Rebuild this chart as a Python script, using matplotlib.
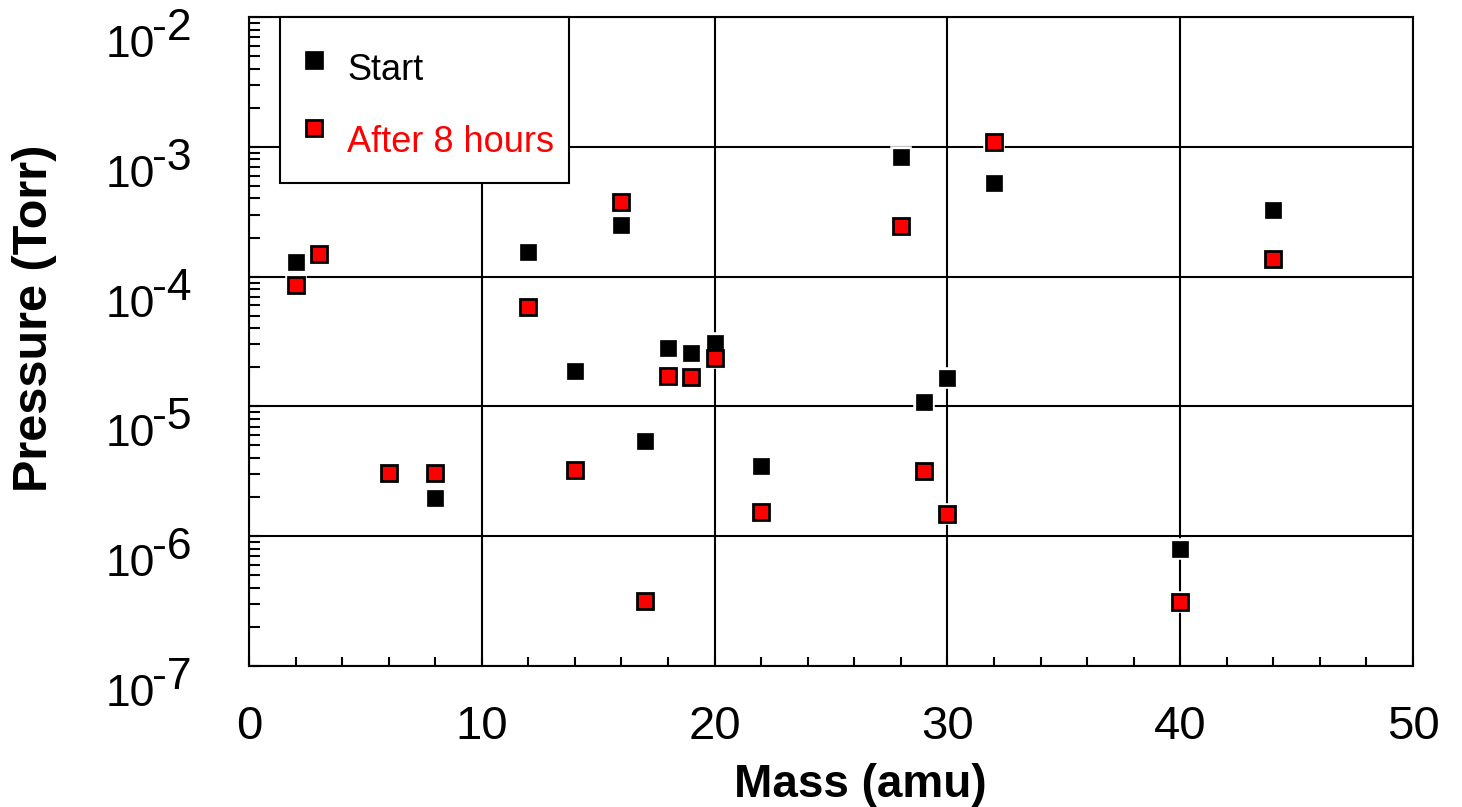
import matplotlib
matplotlib.use("Agg")
import matplotlib.pyplot as plt
from matplotlib.ticker import FixedLocator, LogLocator, NullFormatter
from matplotlib.lines import Line2D
from matplotlib.patches import Rectangle

plt.rcParams['font.family'] = ['Liberation Sans', 'DejaVu Sans']

# Data
start_mass = [2, 8, 12, 14, 16, 17, 18, 19, 20, 22, 28, 29, 30, 32, 40, 44]
start_pressure = [1.3e-4, 1.97e-6, 1.55e-4, 1.87e-5, 2.5e-4, 5.4e-6, 2.82e-5, 2.58e-5,
                  3.08e-5, 3.47e-6, 8.3e-4, 1.08e-5, 1.66e-5, 5.26e-4, 7.97e-7, 3.26e-4]
after_mass = [2, 3, 6, 8, 12, 14, 16, 17, 18, 19, 20, 22, 28, 29, 30, 32, 40, 44]
after_pressure = [8.6e-5, 1.49e-4, 3.07e-6, 3.07e-6, 5.83e-5, 3.24e-6, 3.76e-4, 3.17e-7,
                  1.71e-5, 1.69e-5, 2.36e-5, 1.54e-6, 2.45e-4, 3.18e-6, 1.48e-6, 1.09e-3,
                  3.11e-7, 1.37e-4]
x_ticks = [0, 10, 20, 30, 40, 50]
y_ticks = [1e-7, 1e-6, 1e-5, 1e-4, 1e-3, 1e-2]
y_tick_exponents = ['-7', '-6', '-5', '-4', '-3', '-2']
series_labels = ['Start', 'After 8 hours']
series_text_colors = ['black', '#ff0000']

W, H = 1462, 807
fig = plt.figure(figsize=(W / 100, H / 100), dpi=100)
ax = fig.add_axes([249 / W, 1 - 666 / H, (1413 - 249) / W, (666 - 17) / H])

ax.set_xlim(0, 50)
ax.set_yscale('log')
ax.set_ylim(1e-7, 1e-2)

lw = 1.5
for s in ax.spines.values():
    s.set_linewidth(lw)
    s.set_color('black')

ax.xaxis.set_major_locator(FixedLocator(x_ticks))
ax.xaxis.set_minor_locator(FixedLocator([v for v in range(0, 51, 2) if v % 10 != 0]))
ax.yaxis.set_major_locator(FixedLocator(y_ticks))
ax.yaxis.set_major_formatter(NullFormatter())
ax.yaxis.set_minor_locator(LogLocator(base=10, subs=range(2, 10), numticks=20))
ax.yaxis.set_minor_formatter(NullFormatter())

ax.grid(True, which='major', color='black', linewidth=lw)
ax.set_axisbelow(True)

ax.tick_params(axis='both', which='both', direction='in', top=False, right=False, width=lw, color='black')
ax.tick_params(axis='x', which='major', length=6.5, labelsize=34, pad=28)
ax.tick_params(axis='x', which='minor', length=6.5)
ax.tick_params(axis='y', which='major', length=8)
ax.tick_params(axis='y', which='minor', length=8)

# custom y tick labels: "10" with raised exponent of near-equal size
px = 72 / 100.0  # points per pixel
for yv, ex in zip(y_ticks, y_tick_exponents):
    ax.annotate('10', xy=(0, yv), xycoords=('axes fraction', 'data'),
                xytext=(-94 * px, -40 * px), textcoords='offset points',
                ha='right', va='baseline', fontsize=32, annotation_clip=False)
    ax.annotate(ex, xy=(0, yv), xycoords=('axes fraction', 'data'),
                xytext=(-97 * px, -23 * px), textcoords='offset points',
                ha='left', va='baseline', fontsize=32, annotation_clip=False)

ms = 12
# white halos
ax.plot(start_mass, start_pressure, ls='none', marker='s', ms=ms, mfc='white', mec='white', mew=4, zorder=3)
ax.plot(after_mass, after_pressure, ls='none', marker='s', ms=ms, mfc='white', mec='white', mew=4, zorder=3)
ax.plot(start_mass, start_pressure, ls='none', marker='s', ms=ms, mfc='black', mec='black', mew=0.5, zorder=4)
ax.plot(after_mass, after_pressure, ls='none', marker='s', ms=ms - 1, mfc='#ff0000', mec='black', mew=2, zorder=4)

# axis titles
fig.text(860 / W, 1 - 797 / H, 'Mass (amu)', fontsize=33, fontweight='bold',
         ha='center', va='baseline')
fig.text(35 / W, 1 - 318 / H, 'Pressure (Torr)', fontsize=35, fontweight='bold',
         ha='center', va='center', rotation=90)

# legend (manual)
frame = Rectangle((280 / W, 1 - 183 / H), (569 - 280) / W, (183 - 17) / H,
                  transform=fig.transFigure, facecolor='white', edgecolor='black',
                  linewidth=lw, zorder=10)
fig.patches.append(frame)
handle_styles = [dict(mfc='black', mec='black', mew=0.5, ms=ms + 0.5),
                 dict(mfc='#ff0000', mec='black', mew=2, ms=ms - 0.5)]
marker_y = [60, 128]
text_base = [80, 152]
for lab, col, st, my, tb in zip(series_labels, series_text_colors, handle_styles, marker_y, text_base):
    fig.lines.append(Line2D([314 / W], [1 - my / H], transform=fig.transFigure, ls='none',
                            marker='s', zorder=11, **st))
    fig.text(347 / W, 1 - tb / H, lab, fontsize=26, color=col, ha='left', va='baseline', zorder=11)

fig.savefig('out.png', dpi=100, facecolor='white')
